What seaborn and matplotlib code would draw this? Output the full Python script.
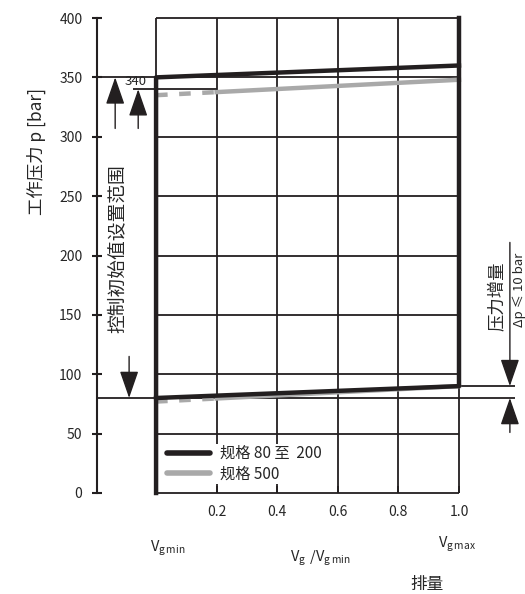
import seaborn as sns
import matplotlib.pyplot as plt

# values
x_ticks = [0.2, 0.4, 0.6, 0.8, 1.0]
y_ticks = [0, 50, 100, 150, 200, 250, 300, 350, 400]
y_grid = [50, 100, 150, 200, 250, 300]

# size 80 to 200 (black)
black_upper_x = [0, 0, 1]
black_upper_y = [0, 350, 360]
black_lower_x = [0, 1, 1]
black_lower_y = [80, 90, 400]

# size 500 (gray)
gray_upper_dash_x = [0, 0.2]
gray_upper_dash_y = [335, 337.6]
gray_upper_x = [0.2, 1]
gray_upper_y = [337.6, 348]
gray_lower_dash_x = [0, 0.2]
gray_lower_dash_y = [77, 79.6]
gray_lower_x = [0.2, 1]
gray_lower_y = [79.6, 90]

labels = ['规格 80 至  200', '规格 500']
p_max, p_set, p_min, p_min_hi = 350, 340, 80, 90

BLACK = '#231f20'
GRAY = '#a9a9a9'

sns.set_style('white')
plt.rcParams['font.family'] = ['Noto Sans CJK SC', 'DejaVu Sans']

W, H = 525, 594
fig = plt.figure(figsize=(W / 100, H / 100), dpi=100)
ax = fig.add_axes([97 / W, 101 / H, 362 / W, 475 / H])
x_left = -0.195
x_right = 1.185
ax.set_xlim(x_left, 1.0)
ax.set_ylim(0, 400)

# grid of the diagram box
thin = dict(color=BLACK, lw=1.3, zorder=1, clip_on=False)
ax.vlines(x_ticks[:-1], 0, 400, **thin)
ax.hlines(y_grid, 0, 1, **thin)
ax.hlines([0, 400], 0, 1, **thin)
ax.vlines([0], 350, 400, **thin)
ax.vlines([1], 0, 90, **thin)
ax.hlines([p_max], x_left, 1, **thin)
ax.hlines([p_set], -0.076, 0.2, **thin)
ax.hlines([p_min], x_left, x_right, **thin)
ax.hlines([p_min_hi], 1, x_right, **thin)

# series
thick = dict(sort=False, estimator=None, lw=3.2, ax=ax)
sns.lineplot(x=gray_upper_dash_x, y=gray_upper_dash_y, color=GRAY, linestyle=(0, (2.6, 2.6)), **thick)
sns.lineplot(x=gray_lower_dash_x, y=gray_lower_dash_y, color=GRAY, linestyle=(0, (2.6, 2.6)), **thick)
sns.lineplot(x=gray_upper_x, y=gray_upper_y, color=GRAY, **thick)
sns.lineplot(x=gray_lower_x, y=gray_lower_y, color=GRAY, **thick)
sns.lineplot(x=black_upper_x, y=black_upper_y, color=BLACK, **thick)
sns.lineplot(x=black_lower_x, y=black_lower_y, color=BLACK, **thick)
for ln in ax.lines:
    ln.set_clip_on(False)
    ln.set_solid_capstyle('projecting')

h_black = plt.Line2D([], [], color=BLACK, lw=4)
h_gray = plt.Line2D([], [], color=GRAY, lw=4)
leg = ax.legend([h_black, h_gray], labels, loc='upper left', bbox_to_anchor=(0.008, 47.5),
                bbox_transform=ax.transData, frameon=True, facecolor='white', edgecolor='none',
                framealpha=1, fancybox=False, handlelength=2.8, handletextpad=0.7,
                labelspacing=0.25, borderpad=0.05, fontsize=11)
leg.set_zorder(5)

# arrows
def arrow(x, y0, y1):
    ax.annotate('', xy=(x, y1), xytext=(x, y0), annotation_clip=False,
                arrowprops=dict(arrowstyle='-|>,head_length=1.3,head_width=0.45',
                                mutation_scale=13, color=BLACK, lw=1.0,
                                shrinkA=0, shrinkB=0))

arrow(-0.135, 307, p_max)
arrow(-0.059, 307, p_set)
arrow(-0.089, 115, p_min)
arrow(1.168, 211, p_min_hi)
arrow(1.168, 51, p_min)

ax.text(-0.068, p_set + 1, '340', fontsize=9.5, ha='center', va='bottom')
ax.text(-0.128, 206, '控制初始值设置范围', rotation=90, fontsize=13.5, ha='center', va='center')
ax.text(1.123, 166, '压力增量', rotation=90, fontsize=12.5, ha='center', va='center')
ax.text(1.2, 140, 'Δp ≤ 10 bar', rotation=90, fontsize=9.5, ha='center', va='bottom')
ax.text(-0.396, 288, '工作压力 p [bar]', rotation=90, fontsize=12.5, ha='center', va='center')

# axes and ticks
for s in ['top', 'right', 'bottom']:
    ax.spines[s].set_visible(False)
ax.spines['left'].set_color(BLACK)
ax.spines['left'].set_linewidth(1.5)
ax.set_xticks(x_ticks)
ax.set_xticklabels([f'{v:.1f}' for v in x_ticks])
ax.set_yticks(y_ticks)
ax.tick_params(axis='x', direction='in', length=5, width=1.3, color=BLACK, pad=9, labelsize=10)
ax.tick_params(axis='y', direction='inout', length=7, width=1.5, color=BLACK, pad=7, labelsize=10)
ax.tick_params(left=True, bottom=True)

fig.text(150 / W, 1 - 552 / H, r'$\mathregular{V_{g\,min}}$', fontsize=10.5, va='baseline')
fig.text(290 / W, 1 - 562 / H, r'$\mathregular{V_g\ /V_{g\,min}}$', fontsize=10.5, va='baseline')
fig.text(438 / W, 1 - 548 / H, r'$\mathregular{V_{g\,max}}$', fontsize=10.5, va='baseline')
fig.text(427 / W, 1 - 584 / H, '排量', fontsize=12, ha='center', va='center')

fig.savefig('out.png', dpi=100)
